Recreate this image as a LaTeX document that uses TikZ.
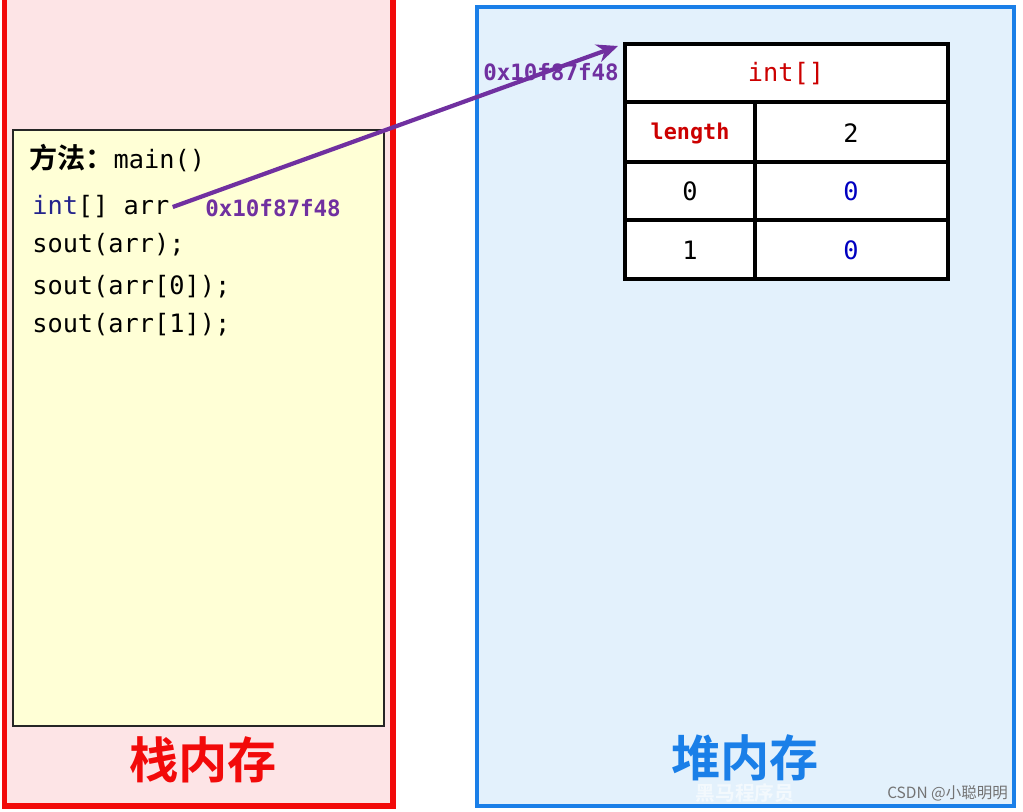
\documentclass[tikz,border=0pt]{standalone}
\usepackage{fontspec}
\usepackage{xcolor}
\usepackage{tikz}
\usetikzlibrary{arrows.meta}
\setmonofont{DejaVu Sans Mono}
\newfontfamily\cjk{Noto Sans CJK SC}
\newfontfamily\cjkbold{Noto Sans CJK SC Bold}
\definecolor{stackred}{HTML}{F20A0A}
\definecolor{stackpink}{HTML}{FDE4E6}
\definecolor{framey}{HTML}{FFFFD6}
\definecolor{heapblue}{HTML}{1A7FE8}
\definecolor{heaplight}{HTML}{E3F1FC}
\definecolor{addr}{HTML}{7030A0}
\definecolor{kwred}{HTML}{CC0000}
\definecolor{valblue}{HTML}{0000C0}
\definecolor{navytxt}{HTML}{24248C}
\tikzset{
  code/.style={anchor=west,font=\ttfamily\fontsize{18}{18}\selectfont,inner sep=0pt},
  addrtxt/.style={font=\ttfamily\bfseries\fontsize{16}{16}\selectfont,text=addr,inner sep=0pt},
  cell/.style={font=\ttfamily\fontsize{18}{18}\selectfont,inner sep=0pt},
  areatitle/.style={font=\cjkbold\fontsize{35}{35}\selectfont,inner sep=0pt}
}
\begin{document}
\begin{tikzpicture}[x=0.025cm,y=-0.025cm]
\useasboundingbox (0,0) rectangle (1023,811);
\fill[white] (0,0) rectangle (1023,811);
% stack area
\fill[stackpink] (4,0) rectangle (393,806);
\draw[stackred,line width=3.6pt] (4.5,0)--(4.5,806)--(393,806)--(393,0);
\fill[framey,draw=black!85,line width=0.8pt] (13,130) rectangle (384,726);
\node[anchor=west,inner sep=0pt] (meth) at (29,158) {{\cjkbold\fontsize{20}{20}\selectfont 方法：}\ttfamily\fontsize{18}{18}\selectfont main()};
\node[code] (arrvar) at (32,207) {\textcolor{navytxt}{int}[] arr};
\node[code] (s1) at (32,245) {sout(arr);};
\node[code] (s2) at (32,287) {sout(arr[0]);};
\node[code] (s3) at (32,325) {sout(arr[1]);};
\node[addrtxt,anchor=west] (addr1) at (205,208) {0x10f87f48};
\node[areatitle,text=stackred] (stk) at (203,760) {栈内存};
% heap area
\fill[heaplight] (477,7) rectangle (1014,806);
\draw[heapblue,line width=3.4pt] (477,7) rectangle (1014,806);
\fill[white] (625,44) rectangle (948,279);
\draw[line width=2.4pt] (625,44) rectangle (948,279);
\draw[line width=2.4pt] (625,102)--(948,102) (625,162)--(948,162) (625,220)--(948,220) (755,102)--(755,279);
\node[cell,text=kwred] (ttl) at (786,74) {int[]};
\node[cell,text=kwred,font=\ttfamily\bfseries\fontsize{15.5}{15.5}\selectfont] (len) at (690,133) {length};
\node[cell] (lenv) at (851,133) {2};
\node[cell] (i0) at (690,191) {0};
\node[cell,text=valblue] (v0) at (851,191) {0};
\node[cell] (i1) at (690,250) {1};
\node[cell,text=valblue] (v1) at (851,250) {0};
\node[addrtxt,anchor=east] (addr2) at (619,72) {0x10f87f48};
\node[areatitle,text=heapblue] (hp) at (745,758) {堆内存};
\node[font=\cjkbold\fontsize{14}{14}\selectfont,text=white,opacity=0.6,inner sep=0pt] (wm) at (745,793) {黑马程序员};
\node[font=\cjk\fontsize{11}{11}\selectfont,text=black!55,anchor=east,inner sep=0pt] (csdn) at (1008,793) {CSDN @小聪明明};
% reference arrow
\coordinate (tab) at (618,46);
\draw[addr,line width=3pt,-{Stealth[length=15pt,width=13pt]}] (arrvar.east) ++(3,0) -- (tab);
\end{tikzpicture}
\end{document}
